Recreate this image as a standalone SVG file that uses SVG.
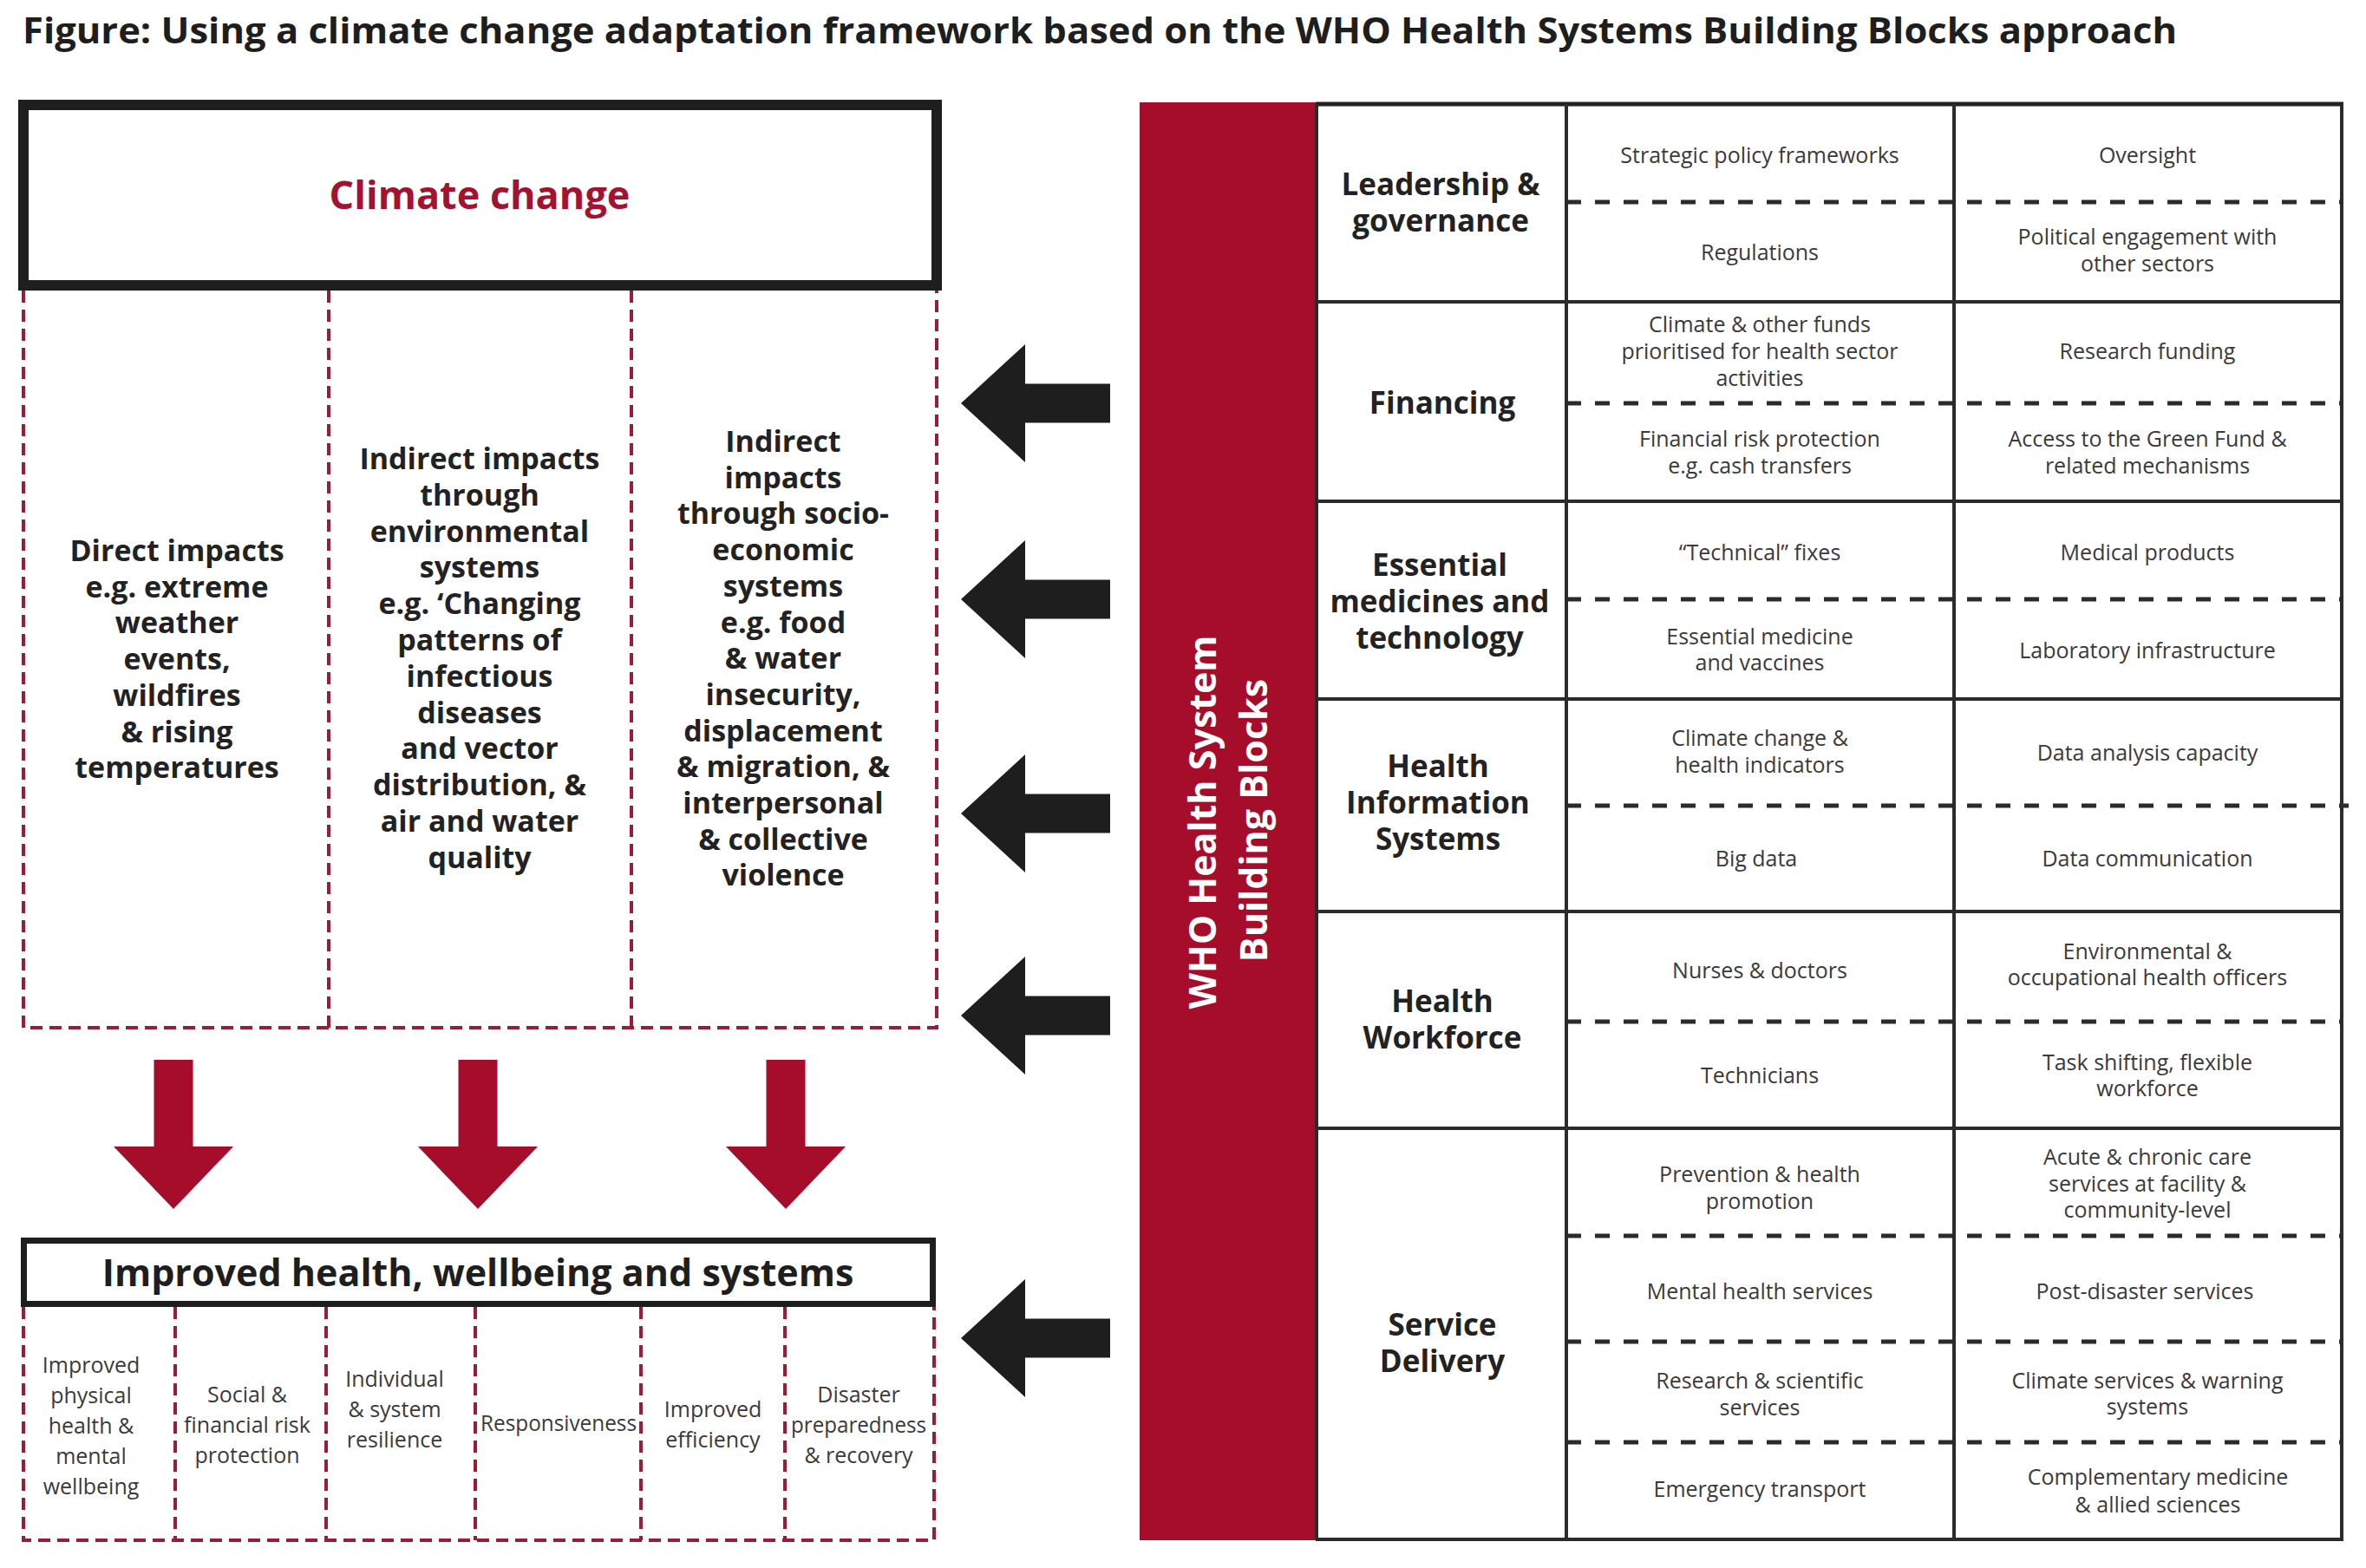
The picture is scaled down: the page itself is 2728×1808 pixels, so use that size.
<svg xmlns="http://www.w3.org/2000/svg" width="2728" height="1808" viewBox="0 0 2728 1808">
<defs>
<style>
text{font-family:"Open Sans","Liberation Sans",sans-serif;}
.title{font-size:42px;font-weight:700;fill:#1e1e1e;}
.cc{font-size:45px;font-weight:700;fill:#a51230;text-anchor:middle;}
.imp{font-size:34px;font-weight:700;fill:#222;text-anchor:middle;}
.ih{font-size:43px;font-weight:700;fill:#1e1e1e;text-anchor:middle;}
.out{font-size:25px;font-weight:400;fill:#3a3a3a;text-anchor:middle;}
.lab{font-size:35px;font-weight:700;fill:#222;text-anchor:middle;}
.cell{font-size:25px;font-weight:400;fill:#3a3a3a;text-anchor:middle;}
.bar{font-size:43px;font-weight:700;fill:#fff;text-anchor:middle;}
.rdash{stroke:#9b1c35;stroke-width:4;stroke-dasharray:14 8;fill:none;}
.tdash{stroke:#2b2b2b;stroke-width:5;stroke-dasharray:17 16;fill:none;}
.tsolid{stroke:#2b2b2b;stroke-width:4;fill:none;}
.box{fill:#fff;stroke:#1e1e1e;}
</style>
<path id="downArrow" d="M-22.5,0 H22.5 V100 H69 L0,172 L-69,100 H-22.5 Z" fill="#a50d2b"/>
<path id="leftArrow" d="M0,0 L74,-68 V-22.5 H172 V22.5 H74 V68 Z" fill="#1e1e1e"/>
</defs>
<rect width="2728" height="1808" fill="#fff"/>

<g id="title">
<text class="title" x="26" y="50" textLength="2484" lengthAdjust="spacingAndGlyphs">Figure: Using a climate change adaptation framework based on the WHO Health Systems Building Blocks approach</text>
</g>

<g id="climate-change">
<rect class="box" x="27" y="121" width="1053" height="208" stroke-width="12"/>
<text class="cc" x="553" y="241">Climate change</text>
</g>

<g id="impacts-frame">
<path class="rdash" d="M27,335 V1185 H1080 V335 M379,335 V1185 M728,335 V1185"/>
</g>

<g id="direct-impacts">
<text class="imp" x="204" y="647"><tspan x="204">Direct impacts</tspan><tspan x="204" dy="41.7">e.g. extreme</tspan><tspan x="204" dy="41.7">weather</tspan><tspan x="204" dy="41.7">events,</tspan><tspan x="204" dy="41.7">wildfires</tspan><tspan x="204" dy="41.7">&amp; rising</tspan><tspan x="204" dy="41.7">temperatures</tspan></text>
</g>

<g id="indirect-environmental">
<text class="imp" x="553" y="541"><tspan x="553">Indirect impacts</tspan><tspan x="553" dy="41.8">through</tspan><tspan x="553" dy="41.8">environmental</tspan><tspan x="553" dy="41.8">systems</tspan><tspan x="553" dy="41.8">e.g. ‘Changing</tspan><tspan x="553" dy="41.8">patterns of</tspan><tspan x="553" dy="41.8">infectious</tspan><tspan x="553" dy="41.8">diseases</tspan><tspan x="553" dy="41.8">and vector</tspan><tspan x="553" dy="41.8">distribution, &amp;</tspan><tspan x="553" dy="41.8">air and water</tspan><tspan x="553" dy="41.8">quality</tspan></text>
</g>

<g id="indirect-socioeconomic">
<text class="imp" x="903" y="521"><tspan x="903">Indirect</tspan><tspan x="903" dy="41.7">impacts</tspan><tspan x="903" dy="41.7">through socio-</tspan><tspan x="903" dy="41.7">economic</tspan><tspan x="903" dy="41.7">systems</tspan><tspan x="903" dy="41.7">e.g. food</tspan><tspan x="903" dy="41.7">&amp; water</tspan><tspan x="903" dy="41.7">insecurity,</tspan><tspan x="903" dy="41.7">displacement</tspan><tspan x="903" dy="41.7">&amp; migration, &amp;</tspan><tspan x="903" dy="41.7">interpersonal</tspan><tspan x="903" dy="41.7">&amp; collective</tspan><tspan x="903" dy="41.7">violence</tspan></text>
</g>

<g id="improved-health">
<rect class="box" x="27.5" y="1430.5" width="1048" height="73" stroke-width="7"/>
<text class="ih" x="551" y="1483">Improved health, wellbeing and systems</text>
</g>

<g id="outcomes-frame">
<path class="rdash" d="M27,1507 V1776 H1077 V1507 M202,1507 V1776 M376,1507 V1776 M548,1507 V1776 M739,1507 V1776 M905,1507 V1776"/>
</g>

<g id="outcome-physical">
<text class="out" x="105" y="1583"><tspan x="105">Improved</tspan><tspan x="105" dy="35">physical</tspan><tspan x="105" dy="35">health &amp;</tspan><tspan x="105" dy="35">mental</tspan><tspan x="105" dy="35">wellbeing</tspan></text>
</g>
<g id="outcome-social">
<text class="out" x="285" y="1617"><tspan x="285">Social &amp;</tspan><tspan x="285" dy="35">financial risk</tspan><tspan x="285" dy="35">protection</tspan></text>
</g>
<g id="outcome-resilience">
<text class="out" x="455" y="1599"><tspan x="455">Individual</tspan><tspan x="455" dy="35">&amp; system</tspan><tspan x="455" dy="35">resilience</tspan></text>
</g>
<g id="outcome-responsiveness">
<text class="out" x="644" y="1650" textLength="180" lengthAdjust="spacingAndGlyphs">Responsiveness</text>
</g>
<g id="outcome-efficiency">
<text class="out" x="822" y="1634"><tspan x="822">Improved</tspan><tspan x="822" dy="35">efficiency</tspan></text>
</g>
<g id="outcome-disaster">
<text class="out" x="990" y="1617"><tspan x="990">Disaster</tspan><tspan x="990" dy="35" textLength="156" lengthAdjust="spacingAndGlyphs">preparedness</tspan><tspan x="990" dy="35">&amp; recovery</tspan></text>
</g>

<g id="who-building-blocks">
<rect x="1314" y="118" width="204" height="1658" fill="#a50d2b"/>
<text class="bar" transform="translate(1402,948) rotate(-90)">WHO Health System</text>
<text class="bar" transform="translate(1461,946) rotate(-90)">Building Blocks</text>
</g>

<g id="table-grid">
<line x1="1517" y1="120" x2="2702" y2="120" stroke="#222" stroke-width="5"/>
<path class="tsolid" d="M1517,348 H2700 M1517,578 H2700 M1517,806 H2700 M1517,1051 H2700 M1517,1301 H2700 M1517,1775 H2702"/>
<path class="tsolid" stroke-width="3" d="M1518,120 V1775 M1806,120 V1775 M2253,120 V1775 M2700,120 V1775"/>
<path class="tdash" d="M1806,233 H2700 M1806,465 H2700 M1806,691 H2700 M1806,929 H2708 M1806,1178 H2700 M1806,1425 H2700 M1806,1547 H2700 M1806,1663 H2700"/>
</g>

<g id="leadership-governance">
<text class="lab" x="1661" y="225"><tspan x="1661">Leadership &amp;</tspan><tspan x="1661" dy="42">governance</tspan></text>
<text class="cell" x="2029" y="188">Strategic policy frameworks</text>
<text class="cell" x="2476" y="188">Oversight</text>
<text class="cell" x="2029" y="300">Regulations</text>
<text class="cell" x="2476" y="282"><tspan x="2476">Political engagement with</tspan><tspan x="2476" dy="31">other sectors</tspan></text>
</g>

<g id="financing">
<text class="lab" x="1663" y="477">Financing</text>
<text class="cell" x="2029" y="383"><tspan x="2029">Climate &amp; other funds</tspan><tspan x="2029" dy="31">prioritised for health sector</tspan><tspan x="2029" dy="31">activities</tspan></text>
<text class="cell" x="2476" y="414">Research funding</text>
<text class="cell" x="2029" y="515"><tspan x="2029">Financial risk protection</tspan><tspan x="2029" dy="31">e.g. cash transfers</tspan></text>
<text class="cell" x="2476" y="515"><tspan x="2476">Access to the Green Fund &amp;</tspan><tspan x="2476" dy="31">related mechanisms</tspan></text>
</g>

<g id="essential-medicines">
<text class="lab" x="1660" y="664"><tspan x="1660">Essential</tspan><tspan x="1660" dy="42">medicines and</tspan><tspan x="1660" dy="42">technology</tspan></text>
<text class="cell" x="2029" y="646">“Technical” fixes</text>
<text class="cell" x="2476" y="646">Medical products</text>
<text class="cell" x="2029" y="743"><tspan x="2029">Essential medicine</tspan><tspan x="2029" dy="30">and vaccines</tspan></text>
<text class="cell" x="2476" y="759">Laboratory infrastructure</text>
</g>

<g id="health-information-systems">
<text class="lab" x="1658" y="896"><tspan x="1658">Health</tspan><tspan x="1658" dy="42">Information</tspan><tspan x="1658" dy="42">Systems</tspan></text>
<text class="cell" x="2029" y="860"><tspan x="2029">Climate change &amp;</tspan><tspan x="2029" dy="31">health indicators</tspan></text>
<text class="cell" x="2476" y="877">Data analysis capacity</text>
<text class="cell" x="2025" y="999">Big data</text>
<text class="cell" x="2476" y="999">Data communication</text>
</g>

<g id="health-workforce">
<text class="lab" x="1663" y="1167"><tspan x="1663">Health</tspan><tspan x="1663" dy="42">Workforce</tspan></text>
<text class="cell" x="2029" y="1128">Nurses &amp; doctors</text>
<text class="cell" x="2476" y="1106"><tspan x="2476">Environmental &amp;</tspan><tspan x="2476" dy="30">occupational health officers</tspan></text>
<text class="cell" x="2029" y="1249">Technicians</text>
<text class="cell" x="2476" y="1234"><tspan x="2476">Task shifting, flexible</tspan><tspan x="2476" dy="30">workforce</tspan></text>
</g>

<g id="service-delivery">
<text class="lab" x="1663" y="1540"><tspan x="1663">Service</tspan><tspan x="1663" dy="42">Delivery</tspan></text>
<text class="cell" x="2029" y="1363"><tspan x="2029">Prevention &amp; health</tspan><tspan x="2029" dy="31">promotion</tspan></text>
<text class="cell" x="2476" y="1343"><tspan x="2476">Acute &amp; chronic care</tspan><tspan x="2476" dy="30.5">services at facility &amp;</tspan><tspan x="2476" dy="30.5">community-level</tspan></text>
<text class="cell" x="2029" y="1498">Mental health services</text>
<text class="cell" x="2473" y="1498">Post-disaster services</text>
<text class="cell" x="2029" y="1601"><tspan x="2029">Research &amp; scientific</tspan><tspan x="2029" dy="31">services</tspan></text>
<text class="cell" x="2476" y="1601"><tspan x="2476">Climate services &amp; warning</tspan><tspan x="2476" dy="30">systems</tspan></text>
<text class="cell" x="2029" y="1726">Emergency transport</text>
<text class="cell" x="2488" y="1712"><tspan x="2488">Complementary medicine</tspan><tspan x="2488" dy="32">&amp; allied sciences</tspan></text>
</g>

<g id="connectors">
<use href="#downArrow" transform="translate(200,1222)"/>
<use href="#downArrow" transform="translate(551,1222)"/>
<use href="#downArrow" transform="translate(906,1222)"/>
<use href="#leftArrow" transform="translate(1108,465)"/>
<use href="#leftArrow" transform="translate(1108,691)"/>
<use href="#leftArrow" transform="translate(1108,938)"/>
<use href="#leftArrow" transform="translate(1108,1171)"/>
<use href="#leftArrow" transform="translate(1108,1543)"/>
</g>
</svg>
